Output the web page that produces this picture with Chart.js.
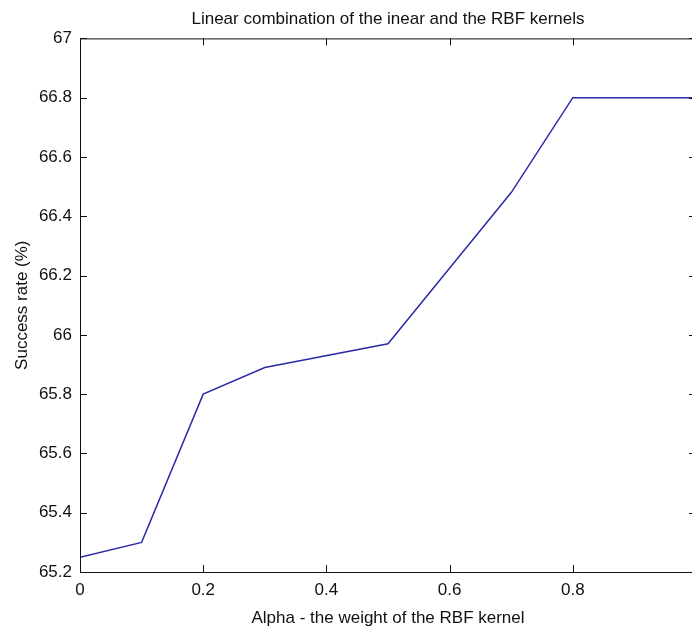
<!DOCTYPE html>
<html>
<script src="https://cdn.jsdelivr.net/npm/chart.js@4.4.0/dist/chart.umd.min.js"></script>
<body style="margin:0;overflow:hidden;background:#fff">

<canvas id="kernelChart" width="702" height="629"></canvas>

<script>

    // alpha values where the curve bends, and the success rate read at each one
    let alphaValues = [0, 0.1, 0.2, 0.3, 0.5, 0.7, 0.8, 1.0];
    let successRates = [65.25, 65.3, 65.8, 65.89, 65.97, 66.48, 66.8, 66.8];

    // axis ranges and tick steps
    let xRange = [0, 1];
    let xStep = 0.2;
    let yRange = [65.2, 67];
    let yStep = 0.2;

    let lineColor = "#2c2ca8";
    let textFont = {family: "'Liberation Sans', Arial, sans-serif", size: 17};

    // matlab style box with the ticks pointing inwards
    const boxPlugin = {
        id: "boxPlugin",
        afterDraw(chart) {
            let ctx = chart.ctx;
            let area = chart.chartArea;
            let xScale = chart.scales.x;
            let yScale = chart.scales.y;
            let len = 7;
            ctx.save();
            ctx.strokeStyle = "#111";
            ctx.lineWidth = 1;
            ctx.strokeRect(area.left + 0.5, area.top + 0.5, area.right - area.left, area.bottom - area.top);
            ctx.beginPath();
            xScale.ticks.forEach(t => {
                let px = Math.round(xScale.getPixelForValue(t.value)) + 0.5;
                ctx.moveTo(px, area.bottom);
                ctx.lineTo(px, area.bottom - len);
                ctx.moveTo(px, area.top);
                ctx.lineTo(px, area.top + len);
            });
            yScale.ticks.forEach(t => {
                let py = Math.round(yScale.getPixelForValue(t.value)) + 0.5;
                ctx.moveTo(area.left, py);
                ctx.lineTo(area.left + len, py);
                ctx.moveTo(area.right, py);
                ctx.lineTo(area.right - len, py);
            });
            ctx.stroke();
            ctx.restore();
        }
    };

    function formatTick(value) {
        return String(parseFloat(value.toFixed(1)));
    }

    new Chart("kernelChart", {
        type: "line",
        data: {
            datasets: [{
                data: alphaValues.map((a, i) => ({x: a, y: successRates[i]})),
                borderColor: lineColor,
                borderWidth: 1.5,
                pointRadius: 0,
                fill: false,
                tension: 0
            }]
        },
        plugins: [boxPlugin],
        options: {
            responsive: false,
            animation: false,
            layout: {padding: {right: 6}},
            plugins: {
                legend: {display: false},
                tooltip: {enabled: false},
                title: {
                    display: true,
                    fullSize: false,
                    text: "Linear combination of the inear and the RBF kernels",
                    color: "#111",
                    font: {family: textFont.family, size: 17, weight: "normal"},
                    padding: {top: 9, bottom: 9}
                }
            },
            scales: {
                x: {
                    type: "linear",
                    min: xRange[0],
                    max: xRange[1],
                    grid: {display: false, drawTicks: false},
                    border: {display: false},
                    ticks: {
                        stepSize: xStep,
                        color: "#111",
                        font: textFont,
                        padding: 8,
                        maxRotation: 0,
                        callback: formatTick
                    },
                    title: {
                        display: true,
                        text: "Alpha - the weight of the RBF kernel",
                        color: "#111",
                        font: textFont,
                        padding: {top: 0, bottom: 0}
                    },
                    afterFit(scale) {
                        scale.height = 57;
                        scale.paddingLeft = 0;
                        scale.paddingRight = 0;
                    }
                },
                y: {
                    min: yRange[0],
                    max: yRange[1],
                    grid: {display: false, drawTicks: false},
                    border: {display: false},
                    ticks: {
                        stepSize: yStep,
                        color: "#111",
                        font: textFont,
                        padding: 8,
                        callback: formatTick
                    },
                    title: {
                        display: true,
                        text: "Success rate (%)",
                        color: "#111",
                        font: textFont,
                        padding: {top: 12, bottom: 0}
                    },
                    afterFit(scale) {
                        scale.width = 80;
                        scale.paddingTop = 0;
                        scale.paddingBottom = 0;
                    }
                }
            }
        }
    });

</script>
</body>
</html>
